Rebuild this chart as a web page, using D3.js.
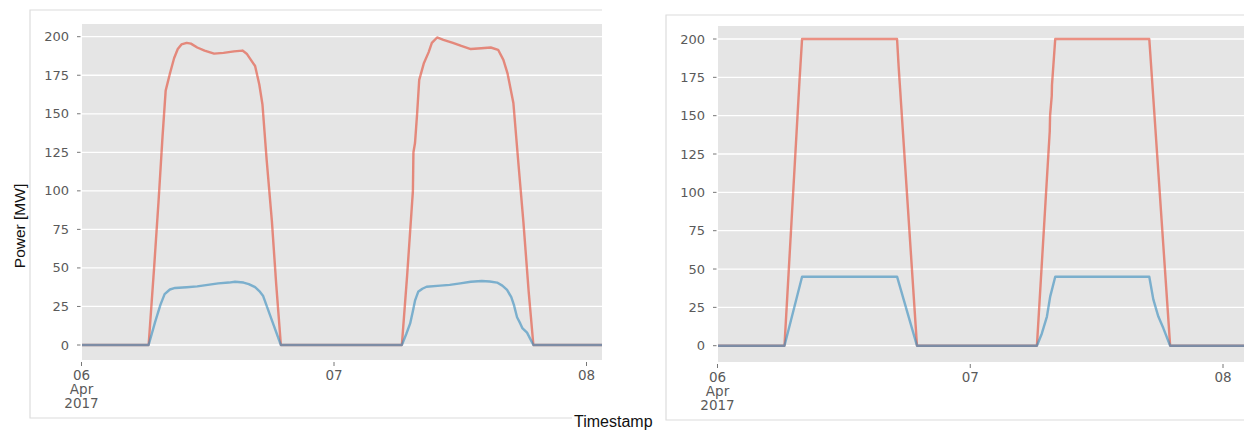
<!DOCTYPE html>
<html>
<head>
<meta charset="utf-8">
<script src="https://cdn.jsdelivr.net/npm/d3@7"></script>
<style>
  body { margin: 0; background: #fff; }
  svg { display: block; }
</style>
</head>
<body>
<svg></svg>
<script>
var width = 1249
var height = 430

// hours after 06 Apr 2017 00:00, power in MW
var measuredRed = [
  [0, 0], [6.38, 0], [6.9, 50], [7.33, 94], [7.7, 135], [8.0, 165], [8.4, 176], [8.8, 186],
  [9.15, 192], [9.5, 195], [10.0, 196], [10.4, 195.5], [11.0, 193], [11.7, 191], [12.6, 189],
  [13.5, 189.5], [14.5, 190.5], [15.3, 191], [15.7, 189], [16.1, 185], [16.5, 181], [16.9, 169],
  [17.2, 156], [17.6, 120], [18.1, 80], [18.5, 40], [18.95, 0],
  [30.45, 0], [30.95, 45], [31.5, 100], [31.55, 125], [31.7, 131], [31.9, 150], [32.1, 172],
  [32.55, 183], [33.0, 190], [33.3, 196], [33.8, 199.5], [34.4, 198], [35.3, 196], [36.1, 194],
  [37.0, 192], [38.0, 192.5], [38.9, 193], [39.6, 191.5], [40.1, 185], [40.5, 176], [41.05, 157],
  [41.5, 120], [42.0, 80], [42.5, 35], [42.95, 0], [50, 0]
]
var measuredBlue = [
  [0, 0], [6.38, 0], [7.0, 15], [7.5, 26], [7.9, 33], [8.4, 36], [8.9, 37], [10.0, 37.5],
  [11.0, 38], [12.0, 39], [13.0, 40], [14.0, 40.5], [14.6, 41], [15.4, 40.5], [15.9, 39.5],
  [16.5, 37.5], [16.9, 35], [17.25, 32], [18.1, 16], [18.95, 0],
  [30.45, 0], [30.86, 7], [31.24, 14], [31.5, 22], [31.71, 29], [32.0, 34.5], [32.4, 36.5],
  [32.8, 37.8], [34.1, 38.5], [35.0, 39], [36.0, 40], [37.0, 41], [38.05, 41.5], [38.8, 41.2],
  [39.5, 40.5], [40.0, 38.5], [40.45, 35.7], [40.85, 31], [41.1, 26], [41.4, 18], [41.7, 14],
  [41.9, 11], [42.35, 8], [42.95, 0], [50, 0]
]
var limitedRed = [
  [0, 0], [6.36, 0], [7.78, 172], [8.03, 200], [17.05, 200], [17.2, 182], [18.94, 0],
  [30.33, 0], [31.55, 140], [31.58, 150], [31.74, 163], [31.76, 170], [32.07, 200],
  [41.0, 200], [41.15, 185], [42.98, 0], [50, 0]
]
var limitedBlue = [
  [0, 0], [6.36, 0], [8.03, 45], [17.05, 45], [18.94, 0],
  [30.33, 0], [30.8, 8], [31.28, 19], [31.59, 32], [32.07, 45], [41.0, 45], [41.39, 30],
  [41.86, 19], [42.33, 11.5], [42.98, 0], [50, 0]
]
var yTicks = [0, 25, 50, 75, 100, 125, 150, 175, 200]
var xTicks = [0, 24, 48]
var xTickLabels = [['06', 'Apr', '2017'], ['07'], ['08']]

var red = '#E24A33'
var blue = '#348ABD'

var svg = d3.select('svg').attr('width', width).attr('height', height)

var panels = [
  {frame: {x0: 30, x1: 602, y0: 10, y1: 418, bottomEnd: 572},
   plot: {x0: 82, x1: 602, y0: 24, y1: 360},
   day0: 81.5, day2: 586.5, v0: 345, v200: 36.7,
   series: [measuredRed, measuredBlue]},
  {frame: {x0: 666, x1: 1244, y0: 15, y1: 420, bottomEnd: 1244},
   plot: {x0: 718, x1: 1244, y0: 26, y1: 362},
   day0: 717.5, day2: 1223, v0: 345.7, v200: 39,
   series: [limitedRed, limitedBlue]}
]

panels.forEach(function(p, i) {
  var g = svg.append('g')

  // frame lines (right side is cut off in the reference)
  g.append('path')
    .attr('d', 'M' + p.frame.x1 + ',' + p.frame.y0 + 'H' + p.frame.x0 + 'V' + p.frame.y1 + 'H' + p.frame.bottomEnd)
    .attr('fill', 'none').attr('stroke', '#dcdcdc').attr('stroke-width', 1.2)

  var x = d3.scaleLinear().domain([0, 48]).range([p.day0, p.day2])
  var y = d3.scaleLinear().domain([0, 200]).range([p.v0, p.v200])

  g.append('rect')
    .attr('x', p.plot.x0).attr('y', p.plot.y0)
    .attr('width', p.plot.x1 - p.plot.x0).attr('height', p.plot.y1 - p.plot.y0)
    .attr('fill', '#e5e5e5')

  g.append('clipPath').attr('id', 'clip' + i)
    .append('rect')
    .attr('x', p.plot.x0).attr('y', p.plot.y0)
    .attr('width', p.plot.x1 - p.plot.x0).attr('height', p.plot.y1 - p.plot.y0)

  // grid
  g.selectAll('.grid').data(yTicks).enter().append('line')
    .attr('x1', p.plot.x0).attr('x2', p.plot.x1)
    .attr('y1', function(d) {return y(d)}).attr('y2', function(d) {return y(d)})
    .attr('stroke', '#fff').attr('stroke-width', 1.3)

  // y axis ticks and labels
  g.selectAll('.yt').data(yTicks).enter().append('line')
    .attr('x1', p.plot.x0 - 5).attr('x2', p.plot.x0 - 1.5)
    .attr('y1', function(d) {return y(d)}).attr('y2', function(d) {return y(d)})
    .attr('stroke', '#777').attr('stroke-width', 1)
  g.selectAll('.yl').data(yTicks).enter().append('text')
    .attr('x', p.plot.x0 - 13).attr('y', function(d) {return y(d) + 4.5})
    .attr('text-anchor', 'end')
    .attr('font-family', 'DejaVu Sans').attr('font-size', 13).attr('fill', '#5a5a5a')
    .text(function(d) {return d})

  // x axis ticks and labels
  g.selectAll('.xt').data(xTicks).enter().append('line')
    .attr('x1', function(d) {return x(d)}).attr('x2', function(d) {return x(d)})
    .attr('y1', p.plot.y1 + 2).attr('y2', p.plot.y1 + 6)
    .attr('stroke', '#777').attr('stroke-width', 1)
  var xl = g.selectAll('.xl').data(xTicks).enter().append('text')
    .attr('text-anchor', 'middle')
    .attr('font-family', 'DejaVu Sans').attr('font-size', 13.5).attr('fill', '#5a5a5a')
    .attr('transform', function(d) {return 'translate(' + x(d) + ',' + (p.plot.y1 + 20) + ')'})
  xl.each(function(d, k) {
    var t = d3.select(this)
    xTickLabels[k].forEach(function(s, j) {
      t.append('tspan').attr('x', 0).attr('y', j * 14).text(s)
    })
  })

  // lines
  var line = d3.line().x(function(d) {return x(d[0])}).y(function(d) {return y(d[1])})
  var lg = g.append('g').attr('clip-path', 'url(#clip' + i + ')')
  lg.append('path').datum(p.series[0])
    .attr('d', line).attr('fill', 'none')
    .attr('stroke', red).attr('stroke-opacity', 0.6).attr('stroke-width', 2.4)
    .attr('stroke-linejoin', 'round')
  lg.append('path').datum(p.series[1])
    .attr('d', line).attr('fill', 'none')
    .attr('stroke', blue).attr('stroke-opacity', 0.6).attr('stroke-width', 2.4)
    .attr('stroke-linejoin', 'round')
})

// shared labels
svg.append('text')
  .attr('transform', 'translate(25,226) rotate(-90)')
  .attr('text-anchor', 'middle')
  .attr('font-family', 'Liberation Sans').attr('font-size', 15.5).attr('fill', '#111')
  .text('Power [MW]')

svg.append('text')
  .attr('x', 574).attr('y', 427)
  .attr('font-family', 'Liberation Sans').attr('font-size', 16).attr('fill', '#111')
  .text('Timestamp')
</script>
</body>
</html>
